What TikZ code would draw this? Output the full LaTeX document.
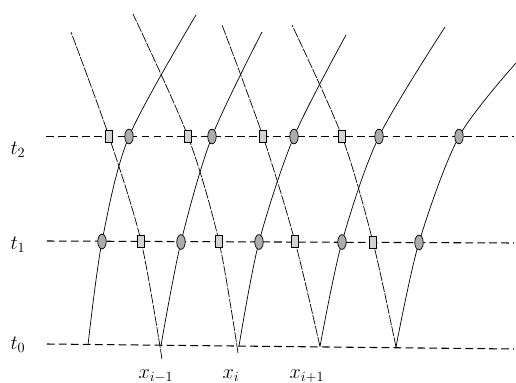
\documentclass[tikz,border=0pt]{standalone}
\usepackage{amsmath,amssymb}
\usepackage{tikz}
\usetikzlibrary{shapes.geometric}

\begin{document}
\begin{tikzpicture}[x=0.025cm,y=-0.025cm,
  level/.style={line width=0.75pt,dash pattern=on 5.5pt off 3pt},
  fwd/.style={line width=0.5pt},
  bwd/.style={line width=0.5pt,dash pattern=on 7pt off 1pt},
  dot/.style={ellipse,draw,line width=0.5pt,fill=gray!65,inner sep=0pt,minimum width=6pt,minimum height=10.5pt},
  box/.style={rectangle,draw,line width=0.5pt,fill=gray!35,inner sep=0pt,minimum width=5pt,minimum height=8.5pt}]
  \useasboundingbox (0,0) rectangle (516,383);
  \foreach \k/\xl/\yl/\xr/\yr in {0/47/344/514/349,1/47/241/514/243,2/46/136.5/514/136.5} {\coordinate (L\k) at (\xl,\yl); \coordinate (R\k) at (\xr,\yr); \draw[level] (L\k) -- (R\k);}
  \foreach \k/\pa/\pb/\pc/\pd in {1/{88,345}/{102,241.5}/{129,136.5}/{196,15},2/{161,345.5}/{181,242}/{212,136.5}/{262,32},3/{239,346}/{259,242}/{294,136.5}/{346,35},4/{320,346.5}/{342,242}/{379,136.5}/{445,27},5/{396,347}/{419,242.5}/{459,136.5}/{516,63}} {
    \coordinate (v\k) at (\pa); \coordinate (e\k) at (\pd);
    \draw[fwd] plot[smooth] coordinates {(v\k) (\pb) (\pc) (e\k)};
    \node[dot] (c\k1) at (\pb) {}; \node[dot] (c\k2) at (\pc) {};}
  \foreach \k/\pa/\pb/\pc/\pd in {1/{162,359}/{141,241}/{109,136.5}/{71,32},2/{238,353}/{219,241.5}/{188,136.5}/{133,14},3/{320,346.5}/{295,241.5}/{263,136.5}/{222,25},4/{396,347}/{373,242}/{342,136.5}/{292,25}} {
    \coordinate (s\k) at (\pa); \coordinate (f\k) at (\pd);
    \draw[bwd] plot[smooth] coordinates {(s\k) (\pb) (\pc) (f\k)};
    \node[box] (b\k1) at (\pb) {}; \node[box] (b\k2) at (\pc) {};}
  \foreach \k/\y in {0/345,1/245,2/150} {\node[font=\Large] (t\k) at (18,\y) {$t_\k$};}
  \node[font=\Large] (xm) at (156,376) {$x_{i-1}$};
  \node[font=\Large] (x0) at (231,376) {$x_i$};
  \node[font=\Large] (xp) at (307,376) {$x_{i+1}$};
\end{tikzpicture}
\end{document}
